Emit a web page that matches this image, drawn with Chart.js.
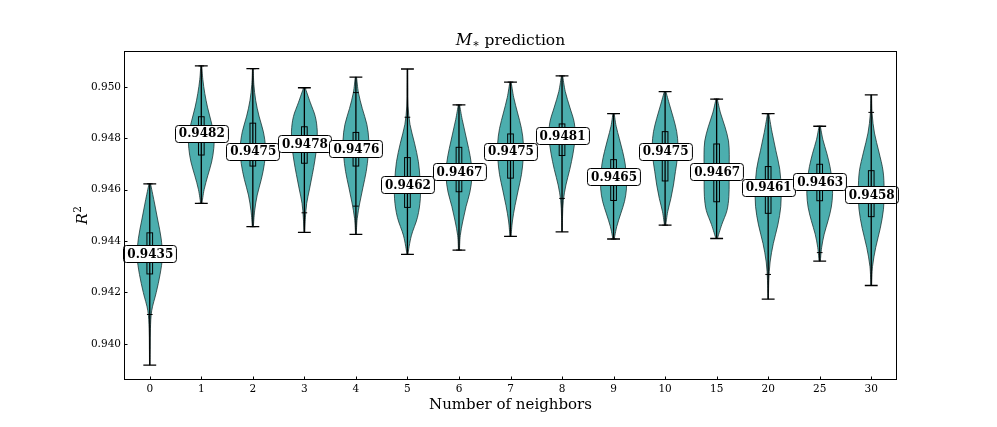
<!DOCTYPE html>
<html><head><meta charset="utf-8">
<script src="https://cdn.jsdelivr.net/npm/chart.js@4.4.0/dist/chart.umd.min.js"></script>
<style>html,body{margin:0;padding:0;background:#fff}#wrap{width:997px;height:427px;position:relative}</style>
</head><body><div id="wrap"><canvas id="c"></canvas></div>
<script>
const categories = ['0','1','2','3','4','5','6','7','8','9','10','15','20','25','30'];
const medianLabels = [0.9435,0.9482,0.9475,0.9478,0.9476,0.9462,0.9467,0.9475,0.9481,0.9465,0.9475,0.9467,0.9461,0.9463,0.9458];
const mins = [0.93917,0.94547,0.94456,0.94434,0.94426,0.94348,0.94365,0.94418,0.94436,0.94408,0.94462,0.94410,0.94174,0.94322,0.94227];
const maxs = [0.94623,0.95082,0.95071,0.94997,0.95038,0.95070,0.94930,0.95019,0.95043,0.94896,0.94982,0.94953,0.94896,0.94847,0.94969];
const q1 = [0.94272,0.94735,0.94692,0.94703,0.94692,0.94531,0.94592,0.94645,0.94733,0.94558,0.94634,0.94553,0.94508,0.94557,0.94495];
const q3 = [0.94432,0.94884,0.94859,0.94845,0.94823,0.94725,0.94765,0.94817,0.94856,0.94717,0.94826,0.94778,0.94690,0.94699,0.94674];
const whiskerLow = [0.94114,0.94547,0.94456,0.94510,0.94536,0.94348,0.94365,0.94418,0.94566,0.94408,0.94462,0.94410,0.94270,0.94355,0.94227];
const whiskerHigh = [0.94623,0.95082,0.95071,0.94997,0.94978,0.94882,0.94930,0.95019,0.95043,0.94896,0.94982,0.94953,0.94896,0.94847,0.94901];
// relative density at 11 evenly spaced levels from min (first) to max (last)
const densities = [
  [.02,.03,.05,.15,.50,.80,.98,.88,.62,.35,.06],
  [.05,.22,.50,.80,.97,.98,.75,.48,.27,.12,.04],
  [.04,.14,.34,.66,.90,.98,.82,.48,.22,.08,.03],
  [.03,.08,.18,.40,.62,.82,.96,1.0,.85,.45,.06],
  [.03,.10,.30,.55,.80,.95,1.0,.85,.50,.20,.05],
  [.03,.30,.78,1.0,.98,.85,.55,.20,.05,.03,.02],
  [.04,.10,.30,.55,.85,1.0,.95,.75,.50,.25,.05],
  [.04,.15,.35,.60,.85,.98,1.0,.85,.55,.25,.05],
  [.02,.04,.10,.30,.60,.85,1.0,.95,.60,.25,.05],
  [.05,.25,.55,.85,1.0,.98,.90,.70,.45,.20,.05],
  [.05,.20,.45,.65,.80,.95,1.0,.90,.65,.35,.06],
  [.06,.40,.80,.95,.97,.97,.98,.92,.65,.30,.05],
  [.02,.05,.15,.40,.75,.98,1.0,.90,.60,.30,.05],
  [.05,.15,.35,.65,.90,1.0,.95,.80,.55,.25,.05],
  [.03,.10,.35,.70,.95,1.0,.92,.60,.25,.07,.03]
];
const yTicks = [0.940,0.942,0.944,0.946,0.948,0.950];
const yRange = [0.93859, 0.95140];

const SERIF = '"DejaVu Serif", serif';

function smoothPath(ctx, pts, moveFirst) {
  const n = pts.length;
  if (moveFirst) ctx.moveTo(pts[0][0], pts[0][1]); else ctx.lineTo(pts[0][0], pts[0][1]);
  for (let i = 0; i < n - 1; i++) {
    const p0 = pts[Math.max(i - 1, 0)], p1 = pts[i], p2 = pts[i + 1], p3 = pts[Math.min(i + 2, n - 1)];
    const c1x = p1[0] + (p2[0] - p0[0]) / 6, c1y = p1[1] + (p2[1] - p0[1]) / 6;
    const c2x = p2[0] - (p3[0] - p1[0]) / 6, c2y = p2[1] - (p3[1] - p1[1]) / 6;
    ctx.bezierCurveTo(c1x, c1y, c2x, c2y, p2[0], p2[1]);
  }
}
function rrect(ctx, x, y, w, h, r) {
  ctx.beginPath();
  ctx.moveTo(x + r, y); ctx.lineTo(x + w - r, y); ctx.quadraticCurveTo(x + w, y, x + w, y + r);
  ctx.lineTo(x + w, y + h - r); ctx.quadraticCurveTo(x + w, y + h, x + w - r, y + h);
  ctx.lineTo(x + r, y + h); ctx.quadraticCurveTo(x, y + h, x, y + h - r);
  ctx.lineTo(x, y + r); ctx.quadraticCurveTo(x, y, x + r, y); ctx.closePath();
}

const violinPlugin = {
  id: 'violins',
  afterDraw(chart) {
    const ctx = chart.ctx, xs = chart.scales.x, ys = chart.scales.y, ca = chart.chartArea;
    ctx.save();
    ctx.beginPath(); ctx.rect(ca.left, ca.top, ca.right - ca.left, ca.bottom - ca.top); ctx.clip();
    categories.forEach((c, i) => {
      const cx = xs.getPixelForValue(i);
      const unit = xs.getPixelForValue(i + 1) - cx;
      const half = 0.25 * unit;
      const d = densities[i], n = d.length;
      const right = [], left = [];
      for (let k = 0; k < n; k++) {
        const v = mins[i] + (maxs[i] - mins[i]) * k / (n - 1);
        const y = ys.getPixelForValue(v);
        right.push([cx + d[k] * half, y]);
      }
      for (let k = n - 1; k >= 0; k--) left.push([2 * cx - right[k][0], right[k][1]]);
      ctx.beginPath();
      smoothPath(ctx, right, true);
      smoothPath(ctx, left, false);
      ctx.closePath();
      ctx.fillStyle = 'rgba(0,139,139,0.7)';
      ctx.fill();
      ctx.strokeStyle = 'rgba(20,40,40,0.75)';
      ctx.lineWidth = 1;
      ctx.stroke();
    });
    categories.forEach((c, i) => {
      const cx = xs.getPixelForValue(i);
      const unit = xs.getPixelForValue(i + 1) - cx;
      const yMin = ys.getPixelForValue(mins[i]), yMax = ys.getPixelForValue(maxs[i]);
      ctx.strokeStyle = '#000';
      ctx.lineWidth = 1.3;
      ctx.beginPath();
      ctx.moveTo(cx, yMin); ctx.lineTo(cx, yMax);
      const cap = 0.125 * unit;
      ctx.moveTo(cx - cap, yMin); ctx.lineTo(cx + cap, yMin);
      ctx.moveTo(cx - cap, yMax); ctx.lineTo(cx + cap, yMax);
      ctx.stroke();
      const bw = 0.055 * unit;
      const yq1 = ys.getPixelForValue(q1[i]), yq3 = ys.getPixelForValue(q3[i]);
      ctx.lineWidth = 1;
      ctx.strokeRect(cx - bw, yq3, 2 * bw, yq1 - yq3);
      ctx.beginPath();
      const wl = ys.getPixelForValue(whiskerLow[i]), wh = ys.getPixelForValue(whiskerHigh[i]);
      ctx.moveTo(cx - bw, wl); ctx.lineTo(cx + bw, wl);
      ctx.moveTo(cx - bw, wh); ctx.lineTo(cx + bw, wh);
      ctx.stroke();
    });
    ctx.restore();
    // labels
    ctx.save();
    ctx.font = 'bold 12px ' + SERIF;
    ctx.textAlign = 'center';
    ctx.textBaseline = 'middle';
    categories.forEach((c, i) => {
      const cx = xs.getPixelForValue(i);
      const cy = ys.getPixelForValue(medianLabels[i]);
      const txt = medianLabels[i].toFixed(4);
      const tw = ctx.measureText(txt).width;
      const w = tw + 7, h = 17;
      rrect(ctx, Math.round(cx - w / 2) + 0.5, Math.round(cy - h / 2) + 0.5, w, h, 3);
      ctx.fillStyle = '#fff'; ctx.fill();
      ctx.strokeStyle = '#000'; ctx.lineWidth = 1; ctx.stroke();
      ctx.fillStyle = '#000';
      ctx.fillText(txt, cx + 0.5, cy + 1);
    });
    ctx.restore();
    // frame and inward ticks
    ctx.save();
    ctx.strokeStyle = '#000'; ctx.lineWidth = 1;
    ctx.strokeRect(ca.left + 0.5, ca.top + 0.5, ca.right - ca.left - 1, ca.bottom - ca.top - 1);
    ctx.beginPath();
    xs.ticks.forEach((t, k) => {
      const x = Math.round(xs.getPixelForTick(k)) + 0.5;
      ctx.moveTo(x, ca.bottom); ctx.lineTo(x, ca.bottom - 3.5);
    });
    ys.ticks.forEach((t, k) => {
      const y = Math.round(ys.getPixelForTick(k)) + 0.5;
      ctx.moveTo(ca.left, y); ctx.lineTo(ca.left + 3.5, y);
    });
    ctx.stroke();
    // titles
    ctx.fillStyle = '#000';
    ctx.textBaseline = 'alphabetic';
    const midX = (ca.left + ca.right) / 2;
    ctx.font = '15px ' + SERIF;
    ctx.textAlign = 'center';
    ctx.fillText('Number of neighbors', midX, 409);
    // title M_* prediction
    const fM = 'italic 16px ' + SERIF, fS = '11px ' + SERIF, fT = '15.5px ' + SERIF;
    ctx.textAlign = 'left';
    ctx.font = fM; const wM = ctx.measureText('M').width;
    ctx.font = fS; const wS = ctx.measureText('*').width;
    ctx.font = fT; const wT = ctx.measureText(' prediction').width;
    let x0 = midX - (wM + wS + 2 + wT) / 2;
    const tb = 45;
    ctx.font = fM; ctx.fillText('M', x0, tb);
    ctx.font = fS; ctx.fillText('*', x0 + wM + 1, tb + 4);
    ctx.font = fT; ctx.fillText(' prediction', x0 + wM + wS + 2, tb);
    // y label R^2
    ctx.save();
    ctx.translate(87, (ca.top + ca.bottom) / 2);
    ctx.rotate(-Math.PI / 2);
    ctx.font = 'italic 15px ' + SERIF; const wR = ctx.measureText('R').width;
    ctx.font = '10.5px ' + SERIF; const w2 = ctx.measureText('2').width;
    const rx = -(wR + w2) / 2;
    ctx.font = 'italic 15px ' + SERIF; ctx.fillText('R', rx, 0);
    ctx.font = '10.5px ' + SERIF; ctx.fillText('2', rx + wR + 0.5, -6.5);
    ctx.restore();
    ctx.restore();
  }
};

new Chart(document.getElementById('c'), {
  type: 'scatter',
  data: { datasets: [] },
  options: {
    responsive: true, maintainAspectRatio: false, animation: false,
    layout: { padding: { left: 0, top: 51, right: 100, bottom: 0 } },
    plugins: { legend: { display: false }, tooltip: { enabled: false }, title: { display: false } },
    scales: {
      x: {
        type: 'linear', min: -0.5, max: 14.5,
        grid: { display: false, drawTicks: false }, border: { display: false },
        afterBuildTicks: s => { s.ticks = categories.map((c, i) => ({ value: i })); },
        afterFit: s => { s.height = 47; },
        ticks: { padding: 3, color: '#000', font: { family: SERIF, size: 10.5 }, maxRotation: 0, autoSkip: false,
          callback: v => categories[v] }
      },
      y: {
        type: 'linear', min: yRange[0], max: yRange[1],
        grid: { display: false, drawTicks: false }, border: { display: false },
        afterBuildTicks: s => { s.ticks = yTicks.map(v => ({ value: v })); },
        afterFit: s => { s.width = 124; },
        ticks: { padding: 3, color: '#000', font: { family: SERIF, size: 10.5 }, callback: v => v.toFixed(3) }
      }
    }
  },
  plugins: [violinPlugin]
});
</script>
</body></html>
